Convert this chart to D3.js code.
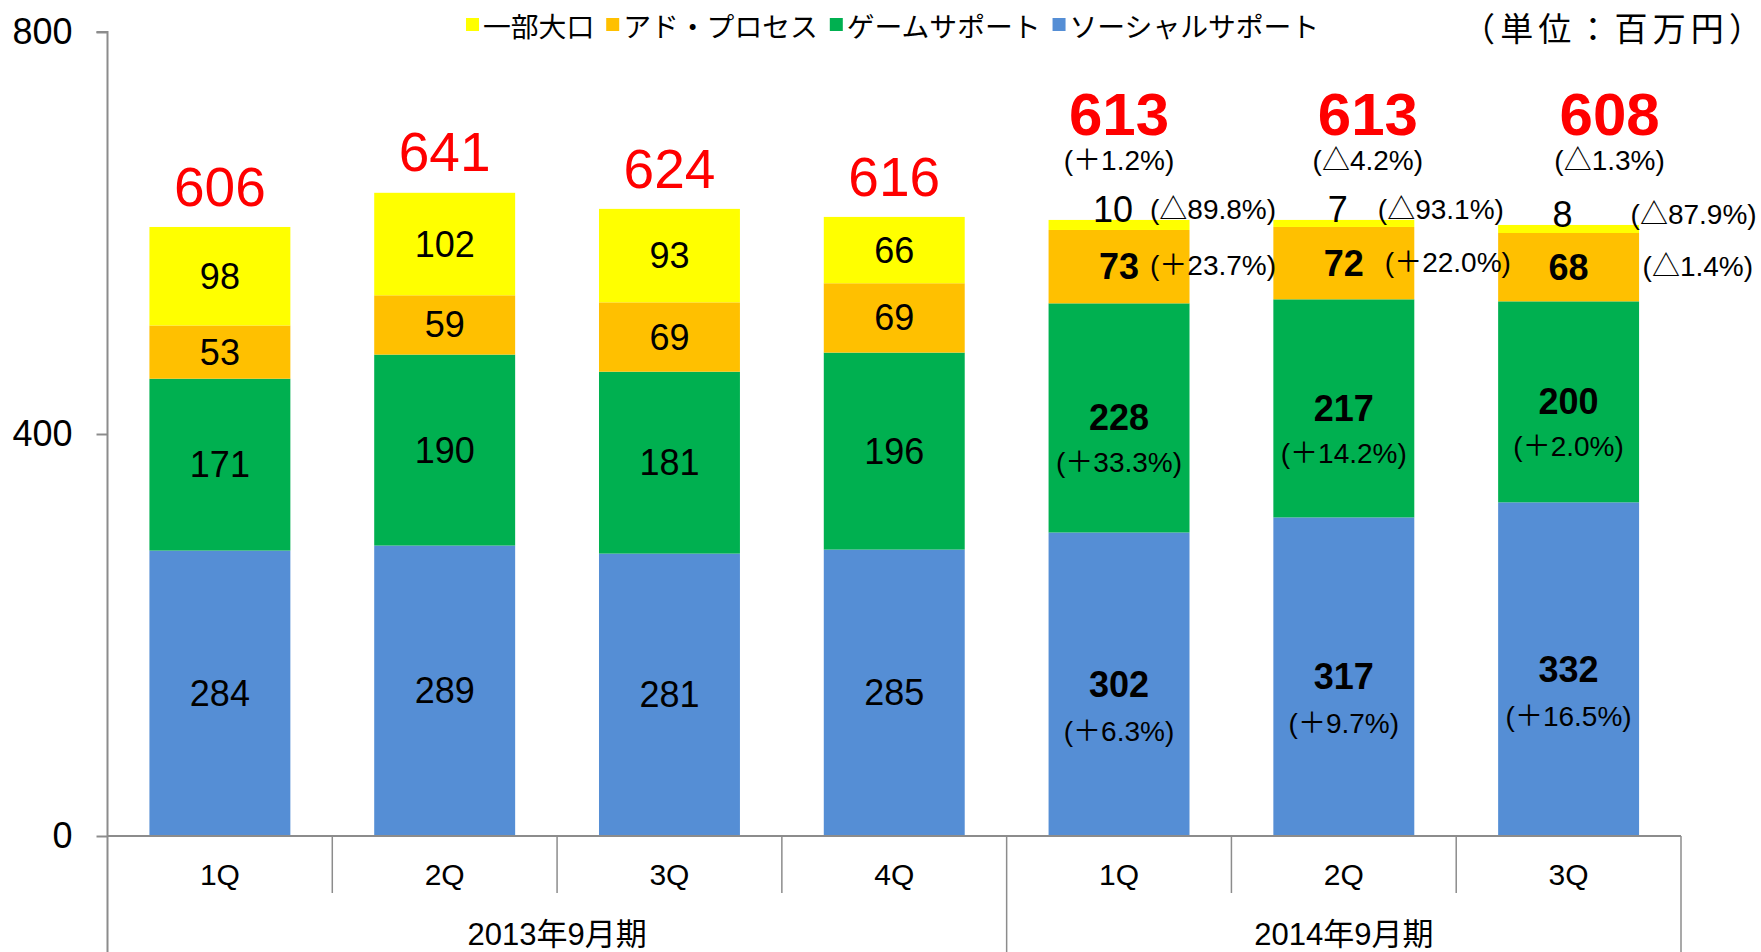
<!DOCTYPE html>
<html>
<head>
<meta charset="utf-8">
<script src="https://cdn.jsdelivr.net/npm/d3@7"></script>
<style>
  html, body { margin: 0; padding: 0; background: #fff; }
  svg { display: block; }
  text { text-spacing-trim: space-all; }
</style>
</head>
<body>
<svg id="chart" width="1761" height="952"></svg>
<script>
// ---------- data ----------
const categories = ["1Q", "2Q", "3Q", "4Q", "1Q", "2Q", "3Q"];
const periods = ["2013年9月期", "2014年9月期"];
const periodSizes = [4, 3];
const seriesNames = ["一部大口", "アド・プロセス", "ゲームサポート", "ソーシャルサポート"];
const socialSupport = [284, 289, 281, 285, 302, 317, 332];
const gameSupport = [171, 190, 181, 196, 228, 217, 200];
const adProcess = [53, 59, 69, 69, 73, 72, 68];
const largeAccounts = [98, 102, 93, 66, 10, 7, 8];
const totals = [606, 641, 624, 616, 613, 613, 608];
const totalChange = [null, null, null, null, "(＋1.2%)", "(△4.2%)", "(△1.3%)"];
const socialChange = [null, null, null, null, "(＋6.3%)", "(＋9.7%)", "(＋16.5%)"];
const gameChange = [null, null, null, null, "(＋33.3%)", "(＋14.2%)", "(＋2.0%)"];
const adChange = [null, null, null, null, "(＋23.7%)", "(＋22.0%)", "(△1.4%)"];
const largeChange = [null, null, null, null, "(△89.8%)", "(△93.1%)", "(△87.9%)"];
const yTicks = [0, 400, 800];
const unitLabel = "（単位：百万円）";

// ---------- layout / style (not data) ----------
const colors = {
  large: "#FFFF00",
  ad: "#FFC000",
  game: "#00B050",
  social: "#558ED5"
};
const legendColors = [colors.large, colors.ad, colors.game, colors.social];
const totalDx = [0, 0, 0, 0, 0, 24, 41];
const largeSideDx = [0, 0, 0, 0, 31, 34, 62];
const adSideDx = [0, 0, 0, 0, 31, 41, 74];
const LATIN = "'Liberation Sans', Arial, 'Noto Sans CJK JP', sans-serif";
const CJK = "'Noto Sans CJK JP', 'Liberation Sans', sans-serif";

const svg = d3.select("#chart");
const mLeft = 107.5, mRight = 1681, mTop = 32, mBottom = 836;

const rows = categories.map((c, i) => ({
  i, social: socialSupport[i], game: gameSupport[i], ad: adProcess[i], large: largeAccounts[i]
}));
const keys = ["social", "game", "ad", "large"];
const stack = d3.stack().keys(keys)(rows);

const x = d3.scaleBand().domain(d3.range(categories.length))
  .range([mLeft, mRight]).paddingInner(0.373).paddingOuter(0.1865);
const y = d3.scaleLinear().domain([0, 800]).range([mBottom, mTop]);
const step = x.step();
const cx = i => x(i) + x.bandwidth() / 2;

// ---------- bars ----------
stack.forEach(layer => {
  svg.append("g").selectAll("rect").data(layer).join("rect")
    .attr("x", d => x(d.data.i))
    .attr("width", x.bandwidth())
    .attr("y", d => y(d[1]))
    .attr("height", d => y(d[0]) - y(d[1]))
    .attr("fill", colors[layer.key]);
});

// ---------- axes ----------
const axisColor = "#8c8c8c";
const yAxis = d3.axisLeft(y).tickValues(yTicks).tickSize(11).tickFormat(d3.format("d"));
const gy = svg.append("g").attr("transform", `translate(${mLeft},0)`).call(yAxis);
gy.select(".domain").attr("stroke", axisColor).attr("stroke-width", 2).attr("d", `M-11,${mTop}H0V952`);
gy.selectAll(".tick line").attr("stroke", axisColor).attr("stroke-width", 2);
gy.selectAll(".tick text").attr("x", -35).attr("font-size", 36).attr("font-family", LATIN).attr("fill", "#000");

// x axis baseline
svg.append("line").attr("x1", mLeft).attr("x2", mRight).attr("y1", y(0)).attr("y2", y(0))
  .attr("stroke", axisColor).attr("stroke-width", 2);

// category separators
const groupBounds = [0];
periodSizes.forEach((s, k) => groupBounds.push(groupBounds[k] + s));
d3.range(1, categories.length + 1).forEach(k => {
  const xx = mLeft + step * k;
  const isGroup = groupBounds.includes(k);
  svg.append("line").attr("x1", xx).attr("x2", xx)
    .attr("y1", y(0)).attr("y2", isGroup ? 952 : 893)
    .attr("stroke", axisColor).attr("stroke-width", 1.5);
});

// quarter labels
svg.append("g").selectAll("text").data(categories).join("text")
  .attr("x", (d, i) => cx(i)).attr("y", 885)
  .attr("text-anchor", "middle").attr("font-size", 30).attr("font-family", LATIN)
  .text(d => d);

// period labels
svg.append("g").selectAll("text").data(periods).join("text")
  .attr("x", (d, k) => mLeft + step * (groupBounds[k] + periodSizes[k] / 2))
  .attr("y", 945)
  .attr("text-anchor", "middle").attr("font-size", 31).attr("font-family", LATIN)
  .text(d => d);

// ---------- value labels ----------
const lab = svg.append("g").attr("font-family", LATIN).attr("fill", "#000");
function txt(xv, yv, s, size, opts = {}) {
  return lab.append("text").attr("x", xv).attr("y", yv)
    .attr("text-anchor", opts.anchor || "middle")
    .attr("dominant-baseline", "central")
    .attr("font-size", size)
    .attr("font-weight", opts.bold ? "bold" : "normal")
    .attr("fill", opts.fill || "#000")
    .text(s);
}

const layerOf = k => stack.find(l => l.key === k);
rows.forEach(r => {
  const i = r.i;
  const is2014 = totalChange[i] !== null;
  const segMid = k => { const d = layerOf(k)[i]; return y((d[0] + d[1]) / 2); };
  if (!is2014) {
    txt(cx(i), segMid("social"), r.social, 36);
    txt(cx(i), segMid("game"), r.game, 36);
    txt(cx(i), segMid("ad"), r.ad, 36);
    txt(cx(i), segMid("large"), r.large, 36);
    txt(cx(i), y(totals[i]) - 40, totals[i], 55, { fill: "#FF0000" });
  } else {
    txt(cx(i), segMid("social"), r.social, 36, { bold: true });
    txt(cx(i), segMid("social") + 47, socialChange[i], 28);
    txt(cx(i), segMid("game"), r.game, 36, { bold: true });
    txt(cx(i), segMid("game") + 45, gameChange[i], 28);
    txt(cx(i), segMid("ad"), r.ad, 36, { bold: true });
    txt(cx(i) + adSideDx[i], segMid("ad") - 1, adChange[i], 28, { anchor: "start" });
    txt(cx(i) - 6, y(totals[i]) - 10, r.large, 36);
    txt(cx(i) + largeSideDx[i], y(totals[i]) - 10, largeChange[i], 28, { anchor: "start" });
    txt(cx(i) + totalDx[i], y(700) - 18, totals[i], 60, { bold: true, fill: "#FF0000" });
    txt(cx(i) + totalDx[i], y(700) + 28, totalChange[i], 28);
  }
});

// ---------- legend ----------
const lg = svg.append("g");
let lx = 466;
seriesNames.forEach((name, k) => {
  lg.append("rect").attr("x", lx).attr("y", 18).attr("width", 13).attr("height", 13).attr("fill", legendColors[k]);
  const t = lg.append("text").attr("x", lx + 17).attr("y", 25).attr("dominant-baseline", "central")
    .attr("font-size", 27.8).attr("font-family", CJK).text(name);
  lx += 17 + t.node().getComputedTextLength() + 12;
});

// unit label
svg.append("text").attr("x", 1462).attr("y", 27)
  .attr("dominant-baseline", "central").attr("font-size", 33).attr("font-family", CJK)
  .attr("textLength", 300).attr("lengthAdjust", "spacing")
  .text(unitLabel);
</script>
</body>
</html>
